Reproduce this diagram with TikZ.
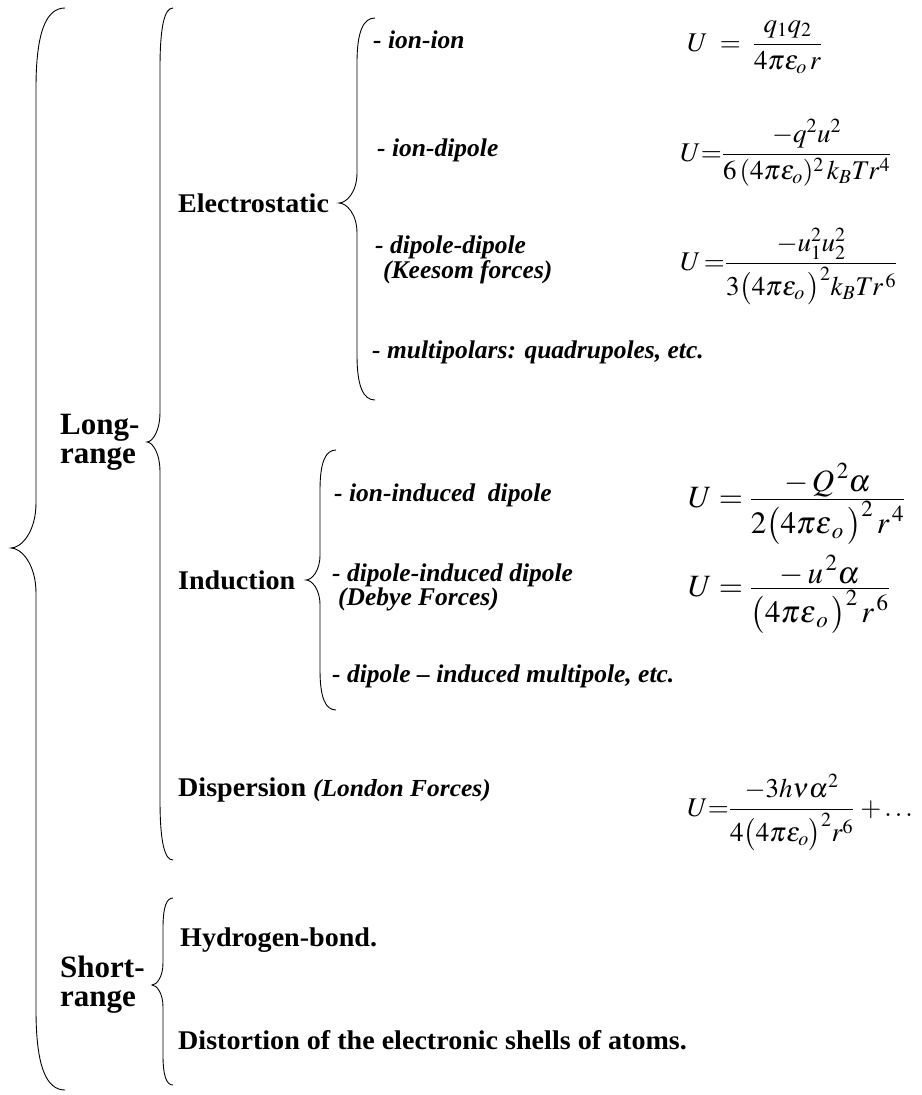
\documentclass[tikz,border=0pt]{standalone}
\usepackage{mathptmx}
\usepackage[no-math]{fontspec}
\setmainfont{Liberation Serif}
% #1 xr (arm ends), #2 xc (spine), #3 xt (tip), #4 y top, #5 y tip, #6 y bottom, #7 arm curve length, #8 tip curve length
\newcommand\mybrc[8]{%
 \draw[bracestyle] (#1,#4) .. controls ({#2+0.35*(#1-#2)},#4) and (#2,{#4+0.3*#7}) .. (#2,{#4+#7})
   -- (#2,{#5-#8}) .. controls (#2,{#5-0.35*#8}) and ({#3+0.4*(#2-#3)},#5) .. (#3,#5)
   .. controls ({#3+0.4*(#2-#3)},#5) and (#2,{#5+0.35*#8}) .. (#2,{#5+#8})
   -- (#2,{#6-#7}) .. controls (#2,{#6-0.3*#7}) and ({#2+0.35*(#1-#2)},#6) .. (#1,#6);}
\newcommand\cmpfrac[2]{{\textstyle\frac{\displaystyle #1}{\displaystyle #2}}}
\begin{document}
\begin{tikzpicture}[x=1pt,y=-1pt,
  bracestyle/.style={line width=0.9pt},
  big/.style={anchor=west, inner sep=0pt, align=left, font=\fontsize{31}{29}\selectfont\bfseries},
  lab/.style={anchor=west, inner sep=0pt, align=left, xscale=1.04, font=\fontsize{27}{30}\selectfont\bfseries},
  item/.style={anchor=west, inner sep=0pt, align=left, font=\fontsize{25.5}{22}\selectfont\bfseries\itshape},
  eq/.style={anchor=base west, inner sep=0pt, font=\fontsize{27}{30}\selectfont},
  eqbig/.style={anchor=base west, inner sep=0pt, font=\fontsize{31}{34}\selectfont}]
\useasboundingbox (0,0) rectangle (921,1095);
% braces
\mybrc{65}{36}{11}{8}{548}{1090}{80}{45}
\mybrc{173}{160}{147}{8}{442}{860}{60}{30}
\mybrc{375}{357}{339}{18}{203}{400}{45}{30}
\mybrc{336}{320}{306}{450}{580}{710}{40}{25}
\mybrc{173}{163}{152}{898}{985}{1085}{30}{22}
% labels
\node[big] (long) at (60,442) {Long-\\range};
\node[big] (short) at (60,985) {Short-\\range};
\node[lab] (elec) at (178,203) {Electrostatic};
\node[lab] (ind) at (178,580) {Induction};
\node[lab] (disp) at (178,790) {Dispersion \fontsize{24.5}{25}\selectfont\itshape(London Forces)};
\node[lab] (hyd) at (180,940) {Hydrogen-bond.};
\node[lab] (dist) at (178,1040) {Distortion of the electronic shells of atoms.};
% items
\node[item] (ii) at (373,40) {- ion-ion};
\node[item] (id) at (377,150) {- ion-dipole};
\node[item] (dd) at (375,260) {- dipole-dipole\\\hspace{8pt}(Keesom forces)};
\node[item] (mp) at (372,352) {- multipolars: quadrupoles, etc.};
\node[item] (iid) at (334,495) {- ion-induced\ \ dipole};
\node[item] (did) at (332,587) {- dipole-induced dipole\\\hspace{6pt}(Debye Forces)};
\node[item] (dim) at (332,676) {- dipole -- induced multipole, etc.};
% equations
\node[eq] (e1) at (687,51) {$\displaystyle U\;=\;\frac{q_1q_2}{4\pi\epsilon_{o}\,r}$};
\node[eq] (e2) at (680,161) {$\displaystyle U{=}\frac{-q^2u^2}{6\,(4\pi\epsilon_{o})^2\,k_BTr^4}$};
\node[eq] (e3) at (680,270) {$\displaystyle U\,{=}\frac{-u_1^2u_2^2}{3\bigl(4\pi\epsilon_{o}\,\bigr)^2k_BTr^{\,6}}$};
\node[eqbig] (e4) at (688,507) {$U\;{=}\;\cmpfrac{-\,Q^{\,2}\alpha}{2\bigl(4\pi\epsilon_{\,o}\,\bigr)^2\,r^{\,4}}$};
\node[eqbig] (e5) at (688,596) {$U\;{=}\;\cmpfrac{-\,u^{\,2}\alpha}{\bigl(4\pi\epsilon_{\,o}\,\bigr)^2\,r^{\,6}}$};
\node[eq] (e6) at (687,816) {$\displaystyle U{=}\frac{-3h\nu\alpha^2}{4\bigl(4\pi\epsilon_{o}\bigr)^2r^6}\;{+}\ldots$};
\end{tikzpicture}
\end{document}
